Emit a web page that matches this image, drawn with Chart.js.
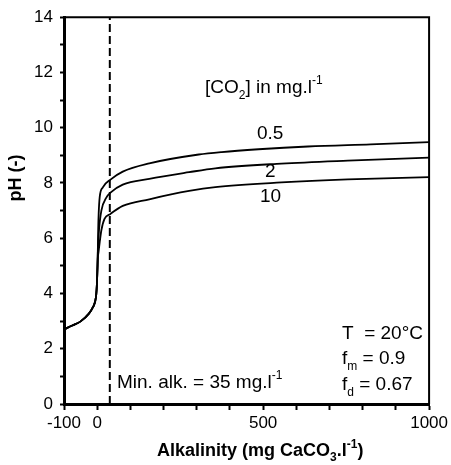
<!DOCTYPE html>
<html>
<head>
<meta charset="utf-8">
<script src="https://cdn.jsdelivr.net/npm/chart.js@4"></script>
<style>
  body { margin: 0; background: #fff; }
  #chart { display: block; }
</style>
</head>
<body>
<canvas id="chart" width="451" height="465"></canvas>
<script>
// pH vs alkalinity, three CO2 concentrations

// shared low-alkalinity part of every curve
const lowAlk = [-100, -75, -50, -25, -12, -6, -3, -1, 1];
const lowPH = [2.70, 2.84, 2.99, 3.27, 3.52, 3.72, 3.95, 4.30, 5.00];

// [CO2] = 0.5 mg/l
const alk05 = [2, 3, 4.5, 7.5, 17, 40, 77, 157, 306, 375, 486, 635, 824, 1000];
const ph05 = [5.6, 6.3, 6.9, 7.48, 7.84, 8.12, 8.41, 8.71, 9.03, 9.12, 9.22, 9.32, 9.40, 9.48];

// [CO2] = 2 mg/l
const alk2 = [2, 3.5, 5.5, 12.6, 27.5, 40, 77, 157, 277, 356, 555, 755, 1000];
const ph2 = [5.5, 5.9, 6.3, 7.0, 7.47, 7.65, 7.94, 8.15, 8.39, 8.53, 8.70, 8.81, 8.92];

// [CO2] = 10 mg/l
const alk10 = [2, 4, 7.5, 12.6, 22, 40, 77, 157, 277, 356, 555, 755, 1000];
const ph10 = [5.3, 5.5, 5.85, 6.29, 6.7, 6.88, 7.17, 7.41, 7.71, 7.85, 8.02, 8.13, 8.21];

const minAlk = 38;
const xLabels = [-100, 0, 500, 1000];
const yLabels = [0, 2, 4, 6, 8, 10, 12, 14];

function toPoints(xs, ys) {
    const all = lowAlk.concat(xs);
    const vals = lowPH.concat(ys);
    return all.map((x, i) => ({ x: x, y: vals[i] }));
}

function curve(xs, ys) {
    return {
        data: toPoints(xs, ys),
        borderColor: '#000',
        borderWidth: 1.8,
        pointRadius: 0,
        cubicInterpolationMode: 'monotone',
        fill: false
    };
}

// draws text with subscript (-1) / superscript (1) parts
function drawRich(ctx, parts, x, y, size, bold) {
    let cx = x;
    const w = bold ? 'bold ' : '';
    parts.forEach(([txt, shift]) => {
        const s = shift ? Math.round(size * 0.65) : size;
        ctx.font = w + s + 'px "Liberation Sans", Arial, sans-serif';
        let dy = 0;
        if (shift === -1) dy = size * 0.3;
        if (shift === 1) dy = -size * 0.45;
        ctx.fillText(txt, cx, y + dy);
        cx += ctx.measureText(txt).width;
    });
}

const annotations = {
    id: 'annotations',
    afterDraw(chart) {
        const ctx = chart.ctx;
        const a = chart.chartArea;
        ctx.save();
        // top and right frame
        ctx.strokeStyle = '#000';
        ctx.lineWidth = 2;
        ctx.beginPath();
        ctx.moveTo(a.left, a.top);
        ctx.lineTo(a.right, a.top);
        ctx.lineTo(a.right, a.bottom);
        ctx.stroke();

        ctx.fillStyle = '#000';
        ctx.textAlign = 'left';
        ctx.textBaseline = 'alphabetic';

        drawRich(ctx, [['[CO', 0], ['2', -1], ['] in mg.l', 0], ['-1', 1]], 205, 93, 19);
        drawRich(ctx, [['0.5', 0]], 257, 139, 19);
        drawRich(ctx, [['2', 0]], 265, 177, 19);
        drawRich(ctx, [['10', 0]], 260, 202, 19);

        drawRich(ctx, [['T  = 20°C', 0]], 342, 339, 19);
        drawRich(ctx, [['f', 0], ['m', -1], [' = 0.9', 0]], 342, 364, 19);
        drawRich(ctx, [['f', 0], ['d', -1], [' = 0.67', 0]], 342, 390, 19);
        drawRich(ctx, [['Min. alk. = 35 mg.l', 0], ['-1', 1]], 117, 388, 19);

        // x axis title
        drawRich(ctx, [['Alkalinity (mg CaCO', 0], ['3', -1], ['.l', 0], ['-1', 1], [')', 0]], 157, 456, 18, true);

        // y axis title
        ctx.translate(21, 178);
        ctx.rotate(-Math.PI / 2);
        ctx.textAlign = 'center';
        ctx.font = 'bold 18px "Liberation Sans", Arial, sans-serif';
        ctx.fillText('pH (-)', 0, 0);
        ctx.restore();
    }
};

new Chart(document.getElementById('chart'), {
    type: 'line',
    data: {
        datasets: [
            curve(alk05, ph05),
            curve(alk2, ph2),
            curve(alk10, ph10),
            {
                data: [{ x: minAlk, y: 0 }, { x: minAlk, y: 14 }],
                borderColor: '#000',
                borderWidth: 2,
                borderDash: [8, 4],
                pointRadius: 0
            }
        ]
    },
    options: {
        responsive: false,
        animation: false,
        devicePixelRatio: 1,
        layout: { padding: { left: 0, top: 9, right: 19, bottom: 0 } },
        plugins: {
            legend: { display: false },
            tooltip: { enabled: false }
        },
        scales: {
            x: {
                type: 'linear',
                min: -100,
                max: 1000,
                afterFit: (s) => { s.height = 61; },
                ticks: {
                    stepSize: 100,
                    autoSkip: false,
                    maxRotation: 0,
                    padding: 3,
                    color: '#000',
                    font: { size: 17, family: '"Liberation Sans", Arial, sans-serif' },
                    callback: (v) => xLabels.includes(v) ? String(v) : ''
                },
                grid: { drawOnChartArea: false, tickLength: 6, tickColor: '#000', tickWidth: 2 },
                border: { color: '#000', width: 3 }
            },
            y: {
                min: 0,
                max: 14,
                afterFit: (s) => { s.width = 64; },
                ticks: {
                    stepSize: 1,
                    autoSkip: false,
                    padding: 7,
                    color: '#000',
                    font: { size: 17, family: '"Liberation Sans", Arial, sans-serif' },
                    callback: (v) => yLabels.includes(v) ? String(v) : ''
                },
                grid: { drawOnChartArea: false, tickLength: 4, tickColor: '#000', tickWidth: 2 },
                border: { color: '#000', width: 3 }
            }
        }
    },
    plugins: [annotations]
});
</script>
</body>
</html>
